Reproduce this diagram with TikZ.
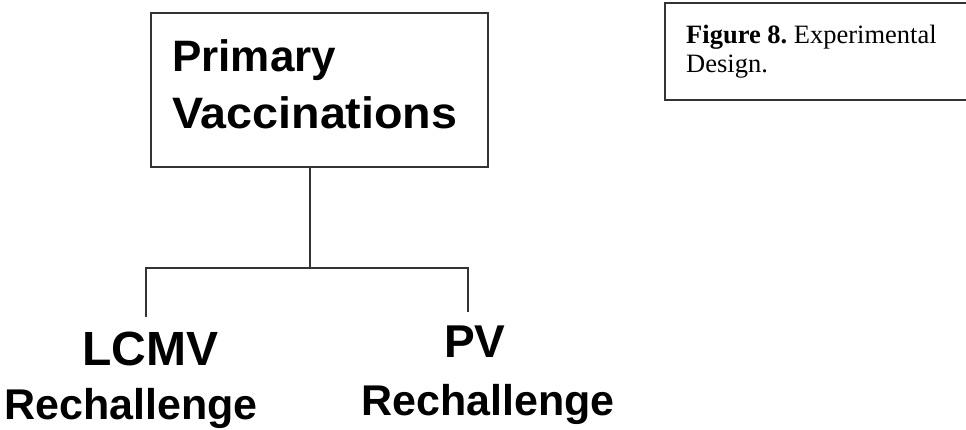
\documentclass[tikz,border=0pt]{standalone}
\usepackage{fontspec}
\setmainfont{Liberation Serif}
\newfontfamily\arialb{Liberation Sans}[BoldFont={* Bold}]
\definecolor{linegray}{HTML}{333333}
\frenchspacing
\begin{document}
\begin{tikzpicture}[x=1pt,y=-1pt,
  txt/.style={inner sep=0pt, anchor=base west, text=black},
  boxline/.style={draw=linegray, line width=1.6pt},
  conn/.style={draw=linegray, line width=1.2pt}]
\useasboundingbox (0,0) rectangle (966,429);
% main box
\node[boxline, minimum width=337pt, minimum height=154pt, anchor=north west, inner sep=0pt] (prim) at (150,12) {};
\node[txt] (t1) at (172,71) {\arialb\bfseries\fontsize{44}{50}\selectfont Primary};
\node[txt] (t2) at (172,128) {\arialb\bfseries\fontsize{44}{50}\selectfont\scalebox{1.06}[1]{Vaccinations}};
% connectors
\coordinate (j) at (310,268);
\coordinate (le) at (146,317);
\coordinate (re) at (468,312);
\draw[conn] (prim.south -| j) -- (j);
\draw[conn] (le) -- (le |- j) -- (re |- j) -- (re);
% leaf labels
\node[txt] (lcmv) at (82,365) {\arialb\bfseries\fontsize{48}{50}\selectfont LCMV};
\node[txt] (lr) at (4,419) {\arialb\bfseries\fontsize{43}{50}\selectfont Rechallenge};
\node[txt] (pv) at (444,357) {\arialb\bfseries\fontsize{46}{50}\selectfont PV};
\node[txt] (pr) at (361,415) {\arialb\bfseries\fontsize{43}{50}\selectfont Rechallenge};
% caption
\node[txt] (cap1) at (686,43) {\fontsize{26.5}{30}\selectfont\textbf{Figure 8.} Experimental};
\node[txt] (cap2) at (686,72) {\fontsize{26.5}{30}\selectfont Design.};
\coordinate (ctr) at (966,3);
\coordinate (cbr) at (966,100);
\draw[boxline] (ctr) -- (665,3) -- (665,100) -- (cbr);
\end{tikzpicture}
\end{document}
